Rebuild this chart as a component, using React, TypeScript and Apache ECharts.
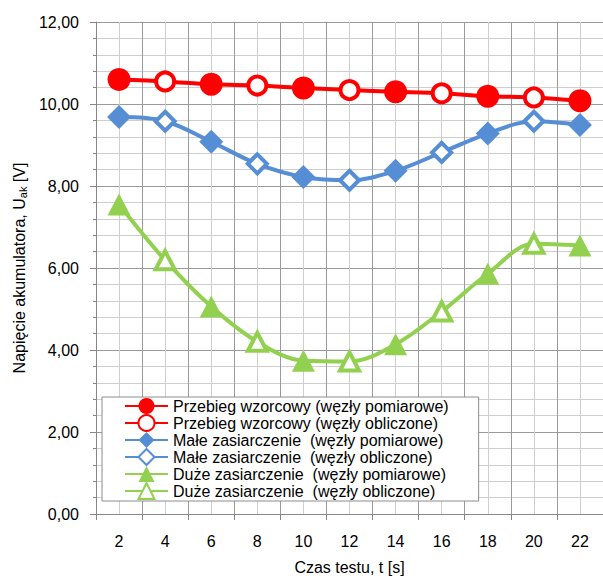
import React, { useEffect, useRef } from 'react';
import * as echarts from 'echarts';

const categories = ['2', '4', '6', '8', '10', '12', '14', '16', '18', '20', '22'];
// true = measured node (pomiarowe), false = computed node (obliczone)
const measured = [true, false, true, false, true, false, true, false, true, false, true];
const referenceValues = [10.6, 10.55, 10.48, 10.45, 10.39, 10.34, 10.3, 10.26, 10.19, 10.16, 10.08];
const smallSulfationValues = [9.68, 9.58, 9.08, 8.54, 8.22, 8.14, 8.37, 8.82, 9.28, 9.58, 9.49];
const largeSulfationValues = [7.55, 6.19, 5.06, 4.2, 3.74, 3.72, 4.14, 4.94, 5.86, 6.59, 6.55];

const seriesNames = [
  'Przebieg wzorcowy (węzły pomiarowe)',
  'Przebieg wzorcowy (węzły obliczone)',
  'Małe zasiarczenie  (węzły pomiarowe)',
  'Małe zasiarczenie  (węzły obliczone)',
  'Duże zasiarczenie  (węzły pomiarowe)',
  'Duże zasiarczenie  (węzły obliczone)',
];

const FONT = "'Liberation Sans', Arial, sans-serif";

function buildPair(
  nameMeasured: string,
  nameComputed: string,
  values: number[],
  color: string,
  symbol: string,
  symbolSize: number | number[],
  hollowSize: number | number[]
) {
  const lineSeries = {
    type: 'line',
    name: nameMeasured,
    xAxisIndex: 0,
    yAxisIndex: 0,
    smooth: 0.35,
    symbol,
    symbolSize,
    showAllSymbol: true,
    lineStyle: { color, width: 4 },
    itemStyle: { color },
    data: values.map((v, i) => (measured[i] ? v : { value: v, symbol: 'none' })),
    z: 2,
  };
  const computedSeries = {
    type: 'line',
    name: nameComputed,
    xAxisIndex: 0,
    yAxisIndex: 0,
    symbol,
    symbolSize: hollowSize,
    showAllSymbol: true,
    lineStyle: { color, width: 4 },
    itemStyle: { color: '#ffffff', borderColor: color, borderWidth: 4 },
    data: values.map((v, i) => (measured[i] ? '-' : v)),
    z: 3,
  };
  return [lineSeries, computedSeries];
}

export default function App() {
  const ref = useRef<HTMLDivElement>(null);

  useEffect(() => {
    if (!ref.current) return;
    const chart = echarts.init(ref.current, undefined, { renderer: 'svg' });
    const series = [
      ...buildPair(seriesNames[0], seriesNames[1], referenceValues, '#FF0000', 'circle', 23, 18),
      ...buildPair(seriesNames[2], seriesNames[3], smallSulfationValues, '#558ED5', 'diamond', 24, 19),
      ...buildPair(seriesNames[4], seriesNames[5], largeSulfationValues, '#92D050', 'triangle', [23, 22], [19, 18]),
    ];
    chart.setOption({
      animation: false,
      backgroundColor: '#ffffff',
      textStyle: { fontFamily: FONT },
      grid: { left: 96, right: 0, top: 22, bottom: 59, containLabel: false },
      legend: {
        orient: 'vertical',
        left: 102,
        top: 397,
        padding: [1, 30, 1, 22],
        itemWidth: 43,
        itemHeight: 20,
        itemGap: 0,
        backgroundColor: '#ffffff',
        borderColor: '#8c8c8c',
        borderWidth: 1,
        borderRadius: 0,
        selectedMode: false,
        textStyle: { fontFamily: FONT, fontSize: 16, color: '#000000' },
        data: seriesNames,
      },
      xAxis: [
        {
          type: 'category',
          data: categories,
          boundaryGap: true,
          name: 'Czas testu, t [s]',
          nameLocation: 'middle',
          nameGap: 45,
          nameTextStyle: { fontFamily: FONT, fontSize: 16, color: '#000000' },
          axisLine: { show: true, lineStyle: { color: '#868686', width: 1 } },
          axisTick: { show: true, length: 6, lineStyle: { color: '#868686' } },
          axisLabel: { fontFamily: FONT, fontSize: 16, color: '#000000', margin: 19 },
          splitLine: { show: true, lineStyle: { color: '#9a9a9a', width: 1 } },
        },
        {
          type: 'value',
          min: 1,
          max: 23,
          interval: 2,
          position: 'top',
          axisLine: { show: false },
          axisTick: { show: false },
          axisLabel: { show: false },
          splitLine: { show: false },
          minorTick: { show: false, splitNumber: 2 },
          minorSplitLine: { show: true, lineStyle: { color: '#cfcfcf', width: 1 } },
        },
      ],
      yAxis: {
        type: 'value',
        min: 0,
        max: 12,
        interval: 2,
        name: 'Napięcie akumulatora, U{sub|ak} [V]',
        nameLocation: 'middle',
        nameGap: 68,
        nameTextStyle: {
          fontFamily: FONT,
          fontSize: 16,
          color: '#000000',
          lineHeight: 18,
          rich: {
            sub: { fontFamily: FONT, fontSize: 11, lineHeight: 11, verticalAlign: 'bottom', color: '#000000' },
          },
        },
        axisLine: { show: true, lineStyle: { color: '#868686', width: 1 } },
        axisTick: { show: true, length: 6, lineStyle: { color: '#868686' } },
        minorTick: { show: true, splitNumber: 5, length: 3, lineStyle: { color: '#868686' } },
        axisLabel: {
          fontFamily: FONT,
          fontSize: 16,
          color: '#000000',
          margin: 17,
          formatter: (v: number) => v.toFixed(2).replace('.', ','),
        },
        splitLine: { show: true, lineStyle: { color: '#9a9a9a', width: 1 } },
        minorSplitLine: { show: true, lineStyle: { color: '#cfcfcf', width: 1 } },
      },
      series,
    });
    return () => chart.dispose();
  }, []);

  return (
    <div
      ref={ref}
      style={{ position: 'fixed', left: 0, top: 0, width: 603, height: 580, background: '#fff' }}
    />
  );
}
